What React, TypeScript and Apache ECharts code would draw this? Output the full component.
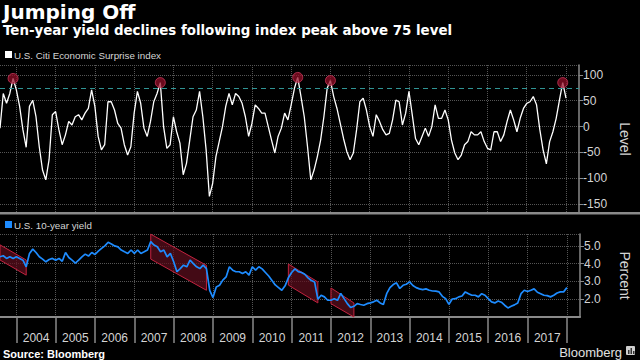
import React, { useEffect, useRef } from "react";
import * as echarts from "echarts";

// Monthly categories, Aug 2003 .. May 2018
const months: string[] = [];
for (let i = 0; i < 178; i++) {
  const t = 2003 * 12 + 7 + i;
  const y = Math.floor(t / 12);
  const mo = (t % 12) + 1;
  months.push(`${y}-${String(mo).padStart(2, "0")}`);
}

// U.S. Citi Economic Surprise index (monthly, from Aug 2003)
const surprise: number[] = [
  -3, 64, 45, 64, 93, 71, 39, -6, -40, 39, 51, 19, -39, -84, -103, -64, 23, 29, -6, -35,
  -16, 10, 3, 19, 23, 13, 26, 35, 71, 39, -19, -45, -35, 48, 48, 32, 6, -3, -35, -55,
  -39, 26, 68, 45, -3, -19, 10, 48, 64, 85, 0, -42, -35, 19, -10, -32, -93, -71, -26, 19,
  32, 68, 19, -45, -135, -110, -58, -29, 0, 39, 64, 42, 64, 58, 45, 19, -19, 6, 42, 35,
  26, 26, 0, -26, -51, -19, -3, 26, 13, 42, 74, 95, 58, 19, -39, -103, -84, -58, -26, 19,
  74, 89, 58, 35, 6, -23, -48, -64, -51, -6, 48, 55, 32, 0, -19, 23, 10, -6, -16, -13,
  13, 51, 48, 3, 26, 68, 23, -23, -35, -19, -3, -19, 0, 42, 16, 16, 32, 13, -26, -51,
  -64, -55, -35, -29, -10, -16, -16, -10, -29, -42, -45, -10, -10, -29, -16, 10, 32, 13, -10, 16,
  35, 45, 48, 58, 42, -6, -45, -72, -29, -10, 16, 51, 85, 55,
];

// U.S. 10-year yield, percent (monthly, from Aug 2003)
const yieldPct: number[] = [
  4.38, 4.44, 4.29, 4.38, 4.29, 4.38, 4.29, 4.19, 3.82, 4.57, 4.81, 4.62, 4.38, 4.25, 4.1, 4.23, 4.29, 4.19, 4.29, 4.13,
  4.62, 4.34, 4.19, 4.03, 4.19, 4.38, 4.53, 4.42, 4.62, 4.51, 4.7, 4.85, 4.99, 5.2, 5.1, 4.99, 4.94, 4.76, 4.66, 4.57,
  4.76, 4.57, 4.76, 4.57, 4.66, 4.76, 5.23, 5.04, 4.94, 4.66, 4.76, 4.38, 4.57, 4.1, 3.54, 3.72, 3.91, 3.82, 4.19, 4.0,
  3.82, 3.72, 3.91, 3.72, 2.5, 2.09, 2.69, 2.78, 3.07, 3.25, 3.82, 3.63, 3.54, 3.54, 3.44, 3.54, 3.35, 3.82, 3.63, 3.82,
  3.7, 3.5, 3.3, 3.05, 2.8, 2.65, 2.5, 2.75, 3.2, 3.5, 3.7, 3.55, 3.5, 3.4, 3.2, 3.05, 2.97, 2.0, 2.22, 2.13,
  1.94, 1.94, 2.03, 1.94, 2.32, 2.03, 1.75, 1.53, 1.6, 1.75, 1.7, 1.66, 1.75, 1.79, 1.85, 1.94, 1.79, 1.7, 2.31, 2.65,
  2.82, 2.92, 2.6, 2.78, 2.84, 2.97, 2.77, 2.65, 2.58, 2.54, 2.58, 2.5, 2.46, 2.45, 2.41, 2.16, 2.03, 1.71, 2.01, 2.03,
  2.13, 2.18, 2.41, 2.31, 2.22, 2.22, 2.13, 2.31, 2.22, 2.03, 1.85, 1.79, 1.9, 1.83, 1.66, 1.51, 1.6, 1.68, 1.79, 2.31,
  2.5, 2.43, 2.5, 2.58, 2.39, 2.31, 2.22, 2.2, 2.13, 2.22, 2.35, 2.41, 2.41, 2.65,
];

// Index peaks above 75
const peakMonths: string[] = ["2003-12", "2007-09", "2011-03", "2012-01", "2017-12"];
const threshold = 75;

// Declining yield channels: [start, top, bottom, end, top, bottom]
const channels: (string | number)[][] = [
  ["2003-08", 5.05, 4.2, "2004-04", 4.2, 3.35],
  ["2007-06", 5.65, 4.25, "2008-11", 3.9, 2.5],
  ["2010-12", 3.97, 2.79, "2011-09", 2.97, 1.79],
  ["2012-01", 2.63, 1.75, "2012-08", 1.79, 1.0],
];

const plainFont = '"Liberation Sans", Arial, sans-serif';
const gridGray = "#555";
const axisGray = "#8a8a8a";
const labelColor = "#d4d4d4";

export default function App() {
  const ref = useRef<HTMLDivElement>(null);
  useEffect(() => {
    if (!ref.current) return;
    const chart = echarts.init(ref.current, null, { renderer: "svg" });
    const peaks = peakMonths.map((m) => {
      const i = months.indexOf(m);
      return [i, surprise[i]];
    });
    const channelData = channels.map((c) => [
      months.indexOf(c[0] as string), c[1], c[2], months.indexOf(c[3] as string), c[4], c[5],
    ]);
    const isJan = (_i: number, v: string) => v.endsWith("-01");
    const isJul = (_i: number, v: string) => v.endsWith("-07");

    chart.setOption({
      animation: false,
      backgroundColor: "#000",
      grid: [
        { left: 0, right: 48, top: 65, height: 148 },
        { left: 0, right: 48, top: 234, height: 83 },
      ],
      xAxis: [
        {
          type: "category", gridIndex: 0, data: months, boundaryGap: false,
          axisLine: { show: false }, axisTick: { show: false }, axisLabel: { show: false },
          splitLine: { show: true, interval: isJan, lineStyle: { color: gridGray, type: "dotted", width: 1 } },
        },
        {
          type: "category", gridIndex: 1, data: months, boundaryGap: false,
          axisLine: { show: true, lineStyle: { color: axisGray, width: 2 } },
          axisTick: { show: true, interval: isJan, length: 26, lineStyle: { color: axisGray, width: 1.5 } },
          axisLabel: {
            show: true, interval: isJul, formatter: (v: string) => v.slice(0, 4),
            color: labelColor, fontSize: 12, fontFamily: plainFont, margin: 15,
          },
          splitLine: { show: true, interval: isJan, lineStyle: { color: gridGray, type: "dotted", width: 1 } },
        },
      ],
      yAxis: [
        {
          type: "value", gridIndex: 0, position: "right", min: -167, max: 119, splitNumber: 5,
          axisLine: { show: true, lineStyle: { color: axisGray, width: 1.5 } },
          axisTick: { show: true, length: 4, lineStyle: { color: axisGray } },
          axisLabel: { color: labelColor, fontSize: 12, fontFamily: plainFont, margin: 4, showMinLabel: false, showMaxLabel: false },
          splitLine: { show: true, lineStyle: { color: gridGray, type: "dotted", width: 1 } },
          name: "Level", nameLocation: "middle", nameRotate: -90, nameGap: 38,
          nameTextStyle: { color: labelColor, fontSize: 14, fontFamily: plainFont },
        },
        {
          type: "value", gridIndex: 1, position: "right", min: 1, max: 5.66, interval: 1,
          axisLine: { show: true, lineStyle: { color: axisGray, width: 1.5 } },
          axisTick: { show: true, length: 4, lineStyle: { color: axisGray } },
          axisLabel: {
            color: labelColor, fontSize: 12, fontFamily: plainFont, margin: 4, showMinLabel: false, showMaxLabel: false,
            formatter: (v: number) => v.toFixed(1),
          },
          splitLine: { show: true, lineStyle: { color: gridGray, type: "dotted", width: 1 } },
          name: "Percent", nameLocation: "middle", nameRotate: -90, nameGap: 38,
          nameTextStyle: { color: labelColor, fontSize: 14, fontFamily: plainFont },
        },
      ],
      series: [
        {
          type: "line", xAxisIndex: 0, yAxisIndex: 0, data: surprise, showSymbol: false,
          lineStyle: { color: "#ffffff", width: 1.3 }, itemStyle: { color: "#fff" },
          markLine: {
            silent: true, symbol: "none", label: { show: false },
            lineStyle: { color: "#2f9494", type: [5, 4], width: 1 },
            data: [{ yAxis: threshold }],
          },
          z: 3,
        },
        {
          type: "scatter", xAxisIndex: 0, yAxisIndex: 0, data: peaks, symbolSize: 10,
          itemStyle: { color: "rgba(150,14,40,0.9)", borderColor: "#c8385a", borderWidth: 1 },
          z: 5,
        },
        {
          type: "custom", xAxisIndex: 1, yAxisIndex: 1, data: channelData,
          encode: { x: [0, 3], y: [1, 2, 4, 5] },
          renderItem: (_p: any, api: any) => {
            const a = api.coord([api.value(0), api.value(1)]);
            const b = api.coord([api.value(3), api.value(4)]);
            const c = api.coord([api.value(3), api.value(5)]);
            const d = api.coord([api.value(0), api.value(2)]);
            return {
              type: "polygon",
              shape: { points: [a, b, c, d] },
              style: { fill: "rgba(95,14,30,0.7)", stroke: "#c2233f", lineWidth: 1 },
            };
          },
          z: 2,
        },
        {
          type: "line", xAxisIndex: 1, yAxisIndex: 1, data: yieldPct, showSymbol: false,
          lineStyle: { color: "#1e8cff", width: 1.7 }, itemStyle: { color: "#1e8cff" }, z: 3,
        },
      ],
      graphic: [
        { type: "text", left: 3, top: 2, style: { text: "Jumping Off", fill: "#fff", font: 'bold 20px "DejaVu Sans"' } },
        { type: "text", left: 3, top: 24, style: { text: "Ten-year yield declines following index peak above 75 level", fill: "#fff", font: 'bold 13.4px "DejaVu Sans"' } },
        { type: "rect", shape: { x: 5, y: 51, width: 7, height: 7 }, style: { fill: "#fff" } },
        { type: "text", x: 14, y: 55, style: { text: "U.S. Citi Economic Surprise index", fill: labelColor, font: `9.8px ${plainFont}`, verticalAlign: "middle" } },
        { type: "rect", shape: { x: 5, y: 221, width: 7, height: 7 }, style: { fill: "#1e8cff" } },
        { type: "text", x: 14, y: 225, style: { text: "U.S. 10-year yield", fill: labelColor, font: `9.8px ${plainFont}`, verticalAlign: "middle" } },
        { type: "rect", shape: { x: 0, y: 212, width: 640, height: 2.5 }, style: { fill: axisGray }, z: 10 },
        { type: "text", x: 3, y: 354, style: { text: "Source: Bloomberg", fill: "#fff", font: `bold 11px ${plainFont}`, verticalAlign: "middle" } },
        { type: "text", x: 622, y: 352, style: { text: "Bloomberg", fill: "#e0e0e0", font: `13px ${plainFont}`, align: "right", verticalAlign: "middle" } },
        { type: "rect", shape: { x: 626, y: 346, width: 9, height: 9, r: 1 }, style: { fill: "#cfcfcf" } },
        { type: "rect", shape: { x: 628, y: 350, width: 1.5, height: 4 }, style: { fill: "#333" } },
        { type: "rect", shape: { x: 630.5, y: 348, width: 1.5, height: 6 }, style: { fill: "#333" } },
        { type: "rect", shape: { x: 633, y: 351, width: 1.5, height: 3 }, style: { fill: "#333" } },
      ],
    });
    return () => chart.dispose();
  }, []);
  return (
    <div
      ref={ref}
      style={{ position: "fixed", left: 0, top: 0, width: 640, height: 360, background: "#000" }}
    />
  );
}
